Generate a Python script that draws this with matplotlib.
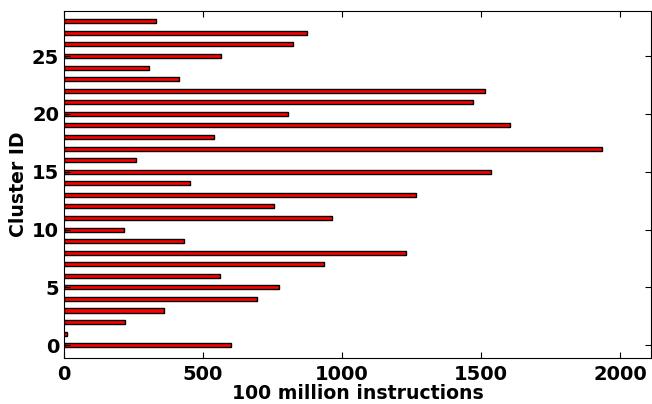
import numpy as np
from matplotlib import pyplot as plt

# === DATA ===
cluster_ids = np.arange(29)
instructions = [600, 10, 220, 359, 694, 773, 561, 935, 1230, 431,
                216, 964, 754, 1266, 453, 1536, 258, 1936, 539, 1604,
                805, 1471, 1514, 413, 305, 565, 823, 873, 330]

# === PLOT ===
plt.rcParams['font.weight'] = 'bold'
plt.rcParams['font.size'] = 14

fig = plt.figure(figsize=(6.52, 4.04), dpi=100)
ax = fig.add_axes([0.098, 0.114, 0.9005, 0.859])

ax.barh(cluster_ids, instructions, height=0.35, color='red',
        edgecolor='black', linewidth=1)

ax.set_xlim(0, 2111)
ax.set_ylim(-1.1, 28.9)
ax.set_xticks([0, 500, 1000, 1500, 2000])
ax.set_yticks([0, 5, 10, 15, 20, 25])
ax.tick_params(direction='in', top=True, right=True, length=4, labelsize=14)
ax.tick_params(axis='x', pad=5)

ax.set_xlabel('100 million instructions', fontsize=13.6, fontweight='bold', labelpad=0)
ax.set_ylabel('Cluster ID', fontsize=13.6, fontweight='bold', labelpad=3)

fig.savefig('out.png', dpi=100)
